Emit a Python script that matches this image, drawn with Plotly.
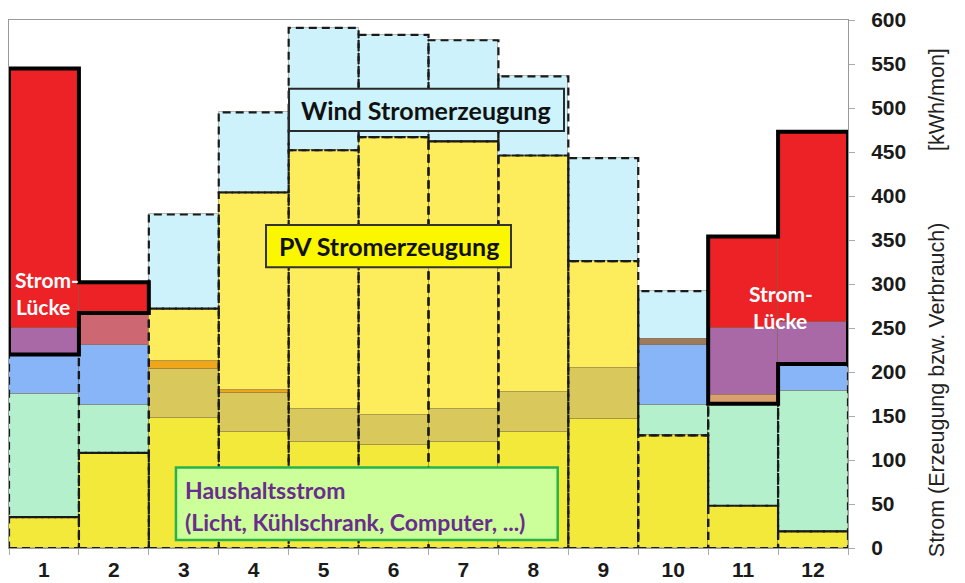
import plotly.graph_objects as go

# ---- monthly values [kWh/mon] ----
months = list(range(1, 13))
month_labels = [str(m) for m in months]

pv_gen = [35, 108, 272, 404, 452, 467, 462, 446, 326, 128, 48, 19]
wind_gen = [185, 159, 107, 91, 139, 116, 115, 90, 117, 164, 116, 190]

household = [175, 163, 148, 132, 120, 117, 120, 132, 147, 163, 174, 178]
heating = [75, 68, 55, 44, 38, 34, 38, 45, 57, 68, 76, 79]
hot_water = [0, 0, 9, 3, 0, 0, 0, 0, 0, 6, 0, 0]
other_load = [295, 71, 0, 0, 0, 0, 0, 0, 0, 0, 104, 216]

y_ticks = list(range(0, 601, 50))

# ---- colours: consumption layer seen against PV, wind or the supply gap ----
COLORS = {
    ("free", "pv"): "#fdec5c",
    ("free", "wind"): "#cdf2fb",
    ("household", "pv"): "#f2e93b",
    ("household", "wind"): "#b3f0cb",
    ("household", "gap"): "#d9a06e",
    ("heating", "pv"): "#d9c95c",
    ("heating", "wind"): "#87b5f7",
    ("heating", "gap"): "#a968a6",
    ("hot_water", "pv"): "#f0a61a",
    ("hot_water", "wind"): "#9d7a5a",
    ("hot_water", "gap"): "#c8603a",
    ("other", "pv"): "#f08a3a",
    ("other", "wind"): "#cd6872",
    ("other", "gap"): "#ec2227",
}

gen_top = [p + w for p, w in zip(pv_gen, wind_gen)]
layers = [("household", household), ("heating", heating),
          ("hot_water", hot_water), ("other", other_load)]

# split every consumption layer into the supply zones it falls into
segments = {}
for i in range(12):
    zones = [("pv", 0, pv_gen[i]), ("wind", pv_gen[i], gen_top[i]), ("gap", gen_top[i], 1e9)]
    lo = 0
    for name, vals in layers:
        hi = lo + vals[i]
        for zname, z0, z1 in zones:
            a, b = max(lo, z0), min(hi, z1)
            if b > a:
                segments.setdefault((name, zname), {})[i] = (a, b)
        lo = hi
    cons_total = lo
    for zname, z0, z1 in zones[:2]:
        a, b = max(cons_total, z0), z1
        if b > a:
            segments.setdefault(("free", zname), {})[i] = (a, b)

fig = go.Figure()
for key, seg in segments.items():
    bases = [seg[i][0] if i in seg else None for i in range(12)]
    heights = [seg[i][1] - seg[i][0] if i in seg else None for i in range(12)]
    fig.add_trace(go.Bar(
        x=months, y=heights, base=bases, width=1.0,
        marker=dict(color=COLORS[key], line=dict(color="rgba(90,70,20,0.35)", width=1)),
        showlegend=False, hoverinfo="skip",
    ))

shapes = []
# dashed outlines of the PV and wind generation blocks
for i, m in enumerate(months):
    for y0, y1 in ((0, pv_gen[i]), (pv_gen[i], gen_top[i])):
        shapes.append(dict(type="rect", xref="x", yref="y", x0=m - 0.5, x1=m + 0.5,
                           y0=y0, y1=y1, line=dict(color="#1a1a1a", width=2.2, dash="8px,5px"),
                           fillcolor="rgba(0,0,0,0)", layer="above"))

# thick outline around the supply gap (adjacent months merged)
cons_total = [h + he + w + o for h, he, w, o in zip(household, heating, hot_water, other_load)]
gap_months = [i for i in range(12) if cons_total[i] > gen_top[i]]
groups, cur = [], []
for i in gap_months:
    if cur and i != cur[-1] + 1:
        groups.append(cur)
        cur = []
    cur.append(i)
if cur:
    groups.append(cur)
for g in groups:
    pts = [(months[g[0]] - 0.5, gen_top[g[0]]), (months[g[0]] - 0.5, cons_total[g[0]])]
    for k, i in enumerate(g):
        pts.append((months[i] + 0.5, cons_total[i]))
        if k + 1 < len(g):
            pts.append((months[i] + 0.5, cons_total[g[k + 1]]))
    last = g[-1]
    pts.append((months[last] + 0.5, gen_top[last]))
    for k in range(len(g) - 1, 0, -1):
        i = g[k]
        pts.append((months[i] - 0.5, gen_top[i]))
        pts.append((months[i] - 0.5, gen_top[g[k - 1]]))
    path = "M " + " L ".join(f"{x},{y}" for x, y in pts) + " Z"
    shapes.append(dict(type="path", xref="x", yref="y", path=path,
                       line=dict(color="black", width=4), layer="above"))

# label boxes
shapes += [
    dict(type="rect", xref="x", yref="y", x0=4.505, x1=8.438, y0=474, y1=522,
         fillcolor="#cdf4fc", line=dict(color="#2a2a2a", width=2), layer="above"),
    dict(type="rect", xref="x", yref="y", x0=4.176, x1=7.68, y0=319, y1=367,
         fillcolor="#fbf700", line=dict(color="#333333", width=2), layer="above"),
    dict(type="rect", xref="x", yref="y", x0=2.888, x1=8.348, y0=9, y1=91.5,
         fillcolor="#ccff99", line=dict(color="#27b24a", width=2.5), layer="above"),
]

box_font = "Lato, Open Sans, sans-serif"
annotations = [
    dict(x=6.47, y=498, text="Wind Stromerzeugung", showarrow=False,
         font=dict(family=box_font, size=25, color="#111111", weight="bold")),
    dict(x=5.93, y=343, text="PV Stromerzeugung", showarrow=False,
         font=dict(family=box_font, size=25, color="#111111", weight="bold")),
    dict(x=2.99, y=66, text="Haushaltsstrom", showarrow=False, xanchor="left",
         font=dict(family=box_font, size=23, color="#6a2c8e", weight="bold")),
    dict(x=2.99, y=30, text="(Licht, Kühlschrank, Computer, ...)", showarrow=False, xanchor="left",
         font=dict(family=box_font, size=23, color="#6a2c8e", weight="bold")),
    dict(x=1.05, y=305, text="Strom-", showarrow=False,
         font=dict(family=box_font, size=21, color="white", weight="bold")),
    dict(x=0.99, y=275, text="Lücke", showarrow=False,
         font=dict(family=box_font, size=21, color="white", weight="bold")),
    dict(x=11.54, y=289, text="Strom-", showarrow=False,
         font=dict(family=box_font, size=21, color="white", weight="bold")),
    dict(x=11.53, y=259, text="Lücke", showarrow=False,
         font=dict(family=box_font, size=21, color="white", weight="bold")),
    dict(xref="paper", yref="paper", x=1.1228, y=0.4637, textangle=-90, showarrow=False,
         text="Strom (Erzeugung bzw. Verbrauch)" + "\u00a0" * 12 + "[kWh/mon]",
         font=dict(family="Liberation Sans, Arial", size=21.5, color="#222222")),
]
for a in annotations:
    a.setdefault("xref", "x")
    a.setdefault("yref", "y")

axis_font = dict(family="Liberation Sans, Arial", size=21, color="#1a1a1a", weight="bold")
fig.update_layout(
    width=965, height=583,
    margin=dict(l=9, r=117, t=20, b=35),
    paper_bgcolor="white", plot_bgcolor="white",
    barmode="overlay", bargap=0,
    shapes=shapes, annotations=annotations,
    xaxis=dict(range=[0.5, 12.5], tickvals=months, ticktext=month_labels,
               ticks="outside", ticklen=3, tickcolor="rgba(0,0,0,0)",
               minor=dict(tick0=0.5, dtick=1, ticks="outside", ticklen=6, tickcolor="#aaaaaa"),
               showgrid=False, zeroline=False, showline=True, linecolor="#999999",
               linewidth=1, mirror=True, tickfont=axis_font, automargin=False),
    yaxis=dict(range=[0, 600], side="right", tickvals=y_ticks,
               ticks="outside", ticklen=6, tickcolor="#aaaaaa",
               showgrid=False, zeroline=False, showline=True, linecolor="#999999",
               linewidth=1, mirror=True, tickfont=axis_font, ticklabelstandoff=12,
               automargin=False),
)

fig.write_html("out.html")
